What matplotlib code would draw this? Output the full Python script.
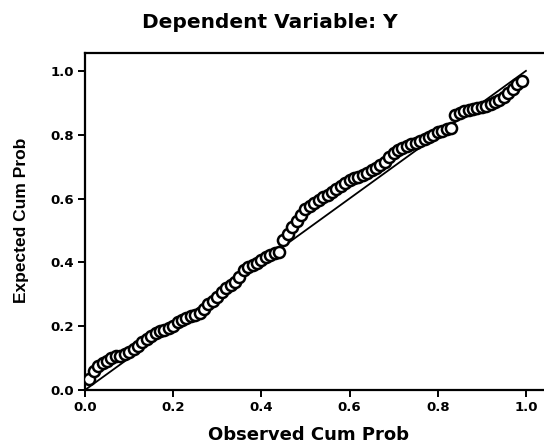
import matplotlib
matplotlib.use("Agg")
import matplotlib.pyplot as plt

# Observed cumulative probability (x) and expected cumulative probability (y)
observed = [0.01, 0.02, 0.03, 0.04, 0.05, 0.06, 0.07, 0.08, 0.09, 0.10,
            0.11, 0.12, 0.13, 0.14, 0.15, 0.16, 0.17, 0.18, 0.19, 0.20,
            0.21, 0.22, 0.23, 0.24, 0.25, 0.26, 0.27, 0.28, 0.29, 0.30,
            0.31, 0.32, 0.33, 0.34, 0.35, 0.36, 0.37, 0.38, 0.39, 0.40,
            0.41, 0.42, 0.43, 0.44, 0.45, 0.46, 0.47, 0.48, 0.49, 0.50,
            0.51, 0.52, 0.53, 0.54, 0.55, 0.56, 0.57, 0.58, 0.59, 0.60,
            0.61, 0.62, 0.63, 0.64, 0.65, 0.66, 0.67, 0.68, 0.69, 0.70,
            0.71, 0.72, 0.73, 0.74, 0.75, 0.76, 0.77, 0.78, 0.79, 0.80,
            0.81, 0.82, 0.83, 0.84, 0.85, 0.86, 0.87, 0.88, 0.89, 0.90,
            0.91, 0.92, 0.93, 0.94, 0.95, 0.96, 0.97, 0.98, 0.99]
expected = [0.035, 0.060, 0.074, 0.084, 0.092, 0.101, 0.105, 0.108, 0.112, 0.120,
            0.128, 0.138, 0.150, 0.161, 0.170, 0.178, 0.184, 0.188, 0.193, 0.202,
            0.212, 0.219, 0.226, 0.231, 0.236, 0.242, 0.255, 0.268, 0.280, 0.292,
            0.306, 0.319, 0.328, 0.338, 0.355, 0.375, 0.384, 0.392, 0.399, 0.407,
            0.416, 0.423, 0.428, 0.432, 0.470, 0.490, 0.512, 0.530, 0.548, 0.566,
            0.577, 0.586, 0.595, 0.604, 0.612, 0.621, 0.630, 0.640, 0.650, 0.658,
            0.663, 0.668, 0.674, 0.680, 0.688, 0.696, 0.706, 0.716, 0.730, 0.744,
            0.752, 0.759, 0.765, 0.770, 0.775, 0.780, 0.786, 0.793, 0.800, 0.807,
            0.812, 0.817, 0.822, 0.862, 0.868, 0.874, 0.878, 0.881, 0.883, 0.886,
            0.889, 0.896, 0.902, 0.909, 0.918, 0.930, 0.944, 0.958, 0.968]

ref_x = [0.0, 1.0]
ref_y = [0.0, 1.0]

ticks = [0.0, 0.2, 0.4, 0.6, 0.8, 1.0]
tick_labels = ["0.0", "0.2", "0.4", "0.6", "0.8", "1.0"]

title = "Dependent Variable: Y"
xlabel = "Observed Cum Prob"
ylabel = "Expected Cum Prob"

fig = plt.figure(figsize=(5.44, 4.46), dpi=100)
ax = fig.add_axes([85 / 544, (446 - 390) / 446, 1 - 85 / 544, (390 - 53) / 446])

ax.plot(ref_x, ref_y, color="black", lw=1.3, zorder=2)
ax.plot(observed, expected, linestyle="none", marker="o", ms=8, mfc="white",
        mec="black", mew=1.8, zorder=3)

ax.set_xlim(0, 1.041)
ax.set_ylim(0, 1.056)
ax.set_xticks(ticks)
ax.set_xticklabels(tick_labels)
ax.set_yticks(ticks)
ax.set_yticklabels(tick_labels)

for side in ["left", "bottom", "top"]:
    ax.spines[side].set_linewidth(1.6)
    ax.spines[side].set_color("black")
ax.spines["right"].set_visible(False)

ax.tick_params(direction="out", length=5, width=1.4, colors="black",
               labelsize=9.5, pad=3)
for lab in ax.get_xticklabels() + ax.get_yticklabels():
    lab.set_fontweight("bold")
    lab.set_family("DejaVu Sans")

fig.text(0.496, 0.950, title, ha="center", va="center", fontsize=14.5,
         fontweight="bold", family="DejaVu Sans")
fig.text(0.568, 0.025, xlabel, ha="center", va="center", fontsize=13,
         fontweight="bold", family="DejaVu Sans")
fig.text(0.040, 0.505, ylabel, ha="center", va="center", rotation=90,
         fontsize=12.5, fontweight="bold", family=["Liberation Sans Narrow", "Liberation Sans"])

fig.savefig("out.png", dpi=100)
